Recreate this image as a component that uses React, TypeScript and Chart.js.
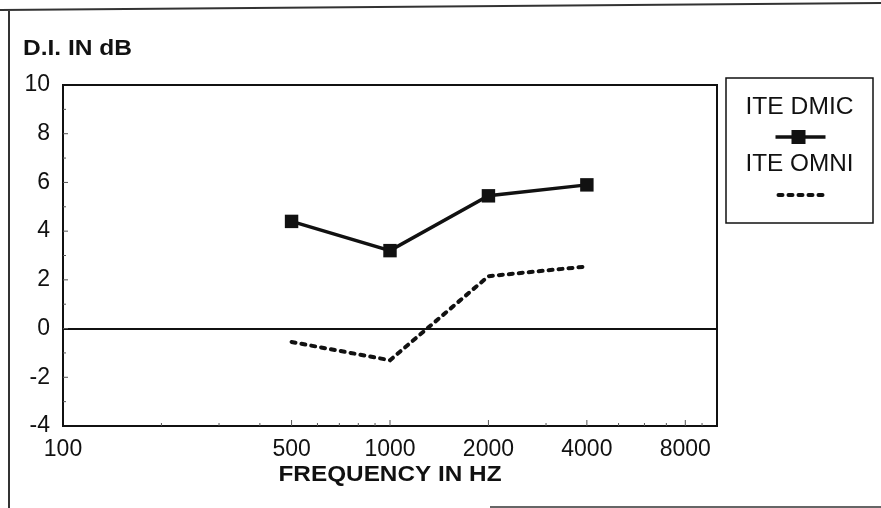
import React, { useEffect, useRef } from 'react';
import { Chart, registerables } from 'chart.js';

Chart.register(...registerables);

const FREQUENCIES = [500, 1000, 2000, 4000];
const ITE_DMIC = [4.4, 3.2, 5.45, 5.9];
const ITE_OMNI = [-0.55, -1.3, 2.15, 2.55];
const SERIES_NAMES = ['ITE DMIC', 'ITE OMNI'];
const X_TICKS = [100, 500, 1000, 2000, 4000, 8000];
const X_MINOR = [200, 300, 400, 600, 700, 800, 900, 3000, 5000, 6000, 7000, 9000];
const X_MIN = 100;
const X_MAX = 10000;
const Y_MIN = -4;
const Y_MAX = 10;
const Y_STEP = 2;
const Y_TITLE = 'D.I. IN dB';
const X_TITLE = 'FREQUENCY IN HZ';

const FAMILY = '"Liberation Sans", Arial, Helvetica, sans-serif';
const INK = '#111';

function drawFit(ctx: CanvasRenderingContext2D, text: string, x: number, y: number, font: string, width: number, align: CanvasTextAlign) {
  ctx.save();
  ctx.font = font;
  const w = ctx.measureText(text).width;
  const sx = width / w;
  ctx.translate(x, y);
  ctx.scale(sx, 1);
  ctx.textAlign = align;
  ctx.textBaseline = 'middle';
  ctx.fillStyle = INK;
  ctx.fillText(text, 0, 0);
  ctx.restore();
}

const decor = {
  id: 'decor',
  beforeDraw(chart: any) {
    const ctx = chart.ctx as CanvasRenderingContext2D;
    ctx.save();
    ctx.fillStyle = '#fff';
    ctx.fillRect(0, 0, chart.width, chart.height);
    ctx.restore();
  },
  afterDraw(chart: any) {
    const ctx = chart.ctx as CanvasRenderingContext2D;
    const a = chart.chartArea;
    const xs = chart.scales.x;
    const ys = chart.scales.y;
    ctx.save();
    // outer frame (scanned page border)
    ctx.strokeStyle = '#333';
    ctx.lineWidth = 2;
    ctx.beginPath();
    ctx.moveTo(0, 10);
    ctx.lineTo(881, 3);
    ctx.moveTo(9, 10);
    ctx.lineTo(9, 508);
    ctx.stroke();
    ctx.strokeStyle = '#666';
    ctx.beginPath();
    ctx.moveTo(490, 507);
    ctx.lineTo(881, 507);
    ctx.stroke();

    // plot box
    ctx.strokeStyle = INK;
    ctx.lineWidth = 2;
    ctx.strokeRect(a.left, a.top, a.right - a.left, a.bottom - a.top);

    // inward minor ticks
    ctx.strokeStyle = '#555';
    ctx.lineWidth = 1;
    ctx.beginPath();
    for (let v = Y_MIN + 1; v < Y_MAX; v++) {
      const py = ys.getPixelForValue(v);
      ctx.moveTo(a.left, py);
      ctx.lineTo(a.left + (v % 2 === 0 ? 5 : 3), py);
    }
    X_TICKS.slice(1).forEach((v) => {
      const px = xs.getPixelForValue(v);
      ctx.moveTo(px, a.bottom);
      ctx.lineTo(px, a.bottom - 6);
    });
    X_MINOR.forEach((v) => {
      const px = xs.getPixelForValue(v);
      ctx.moveTo(px, a.bottom);
      ctx.lineTo(px, a.bottom - 3);
    });
    ctx.stroke();

    // titles
    drawFit(ctx, Y_TITLE, 23, 49, `bold 22px ${FAMILY}`, 109, 'left');
    drawFit(ctx, X_TITLE, (a.left + a.right) / 2, 475, `bold 22px ${FAMILY}`, 223, 'center');

    // legend
    const lx = a.right + 9;
    const ly = 78;
    const lw = 147;
    const lh = 145;
    const cx = lx + lw / 2;
    ctx.strokeStyle = INK;
    ctx.lineWidth = 1.5;
    ctx.strokeRect(lx, ly, lw, lh);
    drawFit(ctx, SERIES_NAMES[0], cx, ly + 30, `23px ${FAMILY}`, 108, 'center');
    ctx.strokeStyle = INK;
    ctx.lineWidth = 3.5;
    ctx.beginPath();
    ctx.moveTo(cx - 24, ly + 59);
    ctx.lineTo(cx + 26, ly + 59);
    ctx.stroke();
    ctx.fillStyle = INK;
    ctx.fillRect(cx - 8, ly + 52, 14, 14);
    drawFit(ctx, SERIES_NAMES[1], cx, ly + 87, `23px ${FAMILY}`, 108, 'center');
    ctx.lineWidth = 4;
    ctx.lineCap = 'round';
    ctx.setLineDash([4, 6]);
    ctx.beginPath();
    ctx.moveTo(cx - 21, ly + 117);
    ctx.lineTo(cx + 27, ly + 117);
    ctx.stroke();
    ctx.restore();
  },
};

export default function App() {
  const ref = useRef<HTMLCanvasElement>(null);
  useEffect(() => {
    const chart = new Chart(ref.current as HTMLCanvasElement, {
      type: 'line',
      data: {
        datasets: [
          {
            label: SERIES_NAMES[0],
            data: FREQUENCIES.map((f, i) => ({ x: f, y: ITE_DMIC[i] })),
            borderColor: INK,
            backgroundColor: INK,
            borderWidth: 3.5,
            pointStyle: 'rect',
            pointRadius: 9.5,
            pointBackgroundColor: INK,
            pointBorderWidth: 0,
            tension: 0,
          },
          {
            label: SERIES_NAMES[1],
            data: FREQUENCIES.map((f, i) => ({ x: f, y: ITE_OMNI[i] })),
            borderColor: INK,
            borderWidth: 4,
            borderDash: [4, 6],
            borderCapStyle: 'round',
            pointRadius: 0,
            tension: 0,
          },
        ],
      },
      options: {
        responsive: false,
        animation: false,
        devicePixelRatio: 1,
        layout: { padding: { top: 85, right: 164, left: 0, bottom: 0 } },
        plugins: { legend: { display: false }, tooltip: { enabled: false } },
        scales: {
          x: {
            type: 'logarithmic',
            min: X_MIN,
            max: X_MAX,
            afterBuildTicks: (s: any) => {
              s.ticks = X_TICKS.map((v) => ({ value: v }));
            },
            afterFit: (s: any) => {
              s.height = 82;
            },
            ticks: {
              autoSkip: false,
              maxRotation: 0,
              minRotation: 0,
              padding: 2,
              color: INK,
              font: { family: FAMILY, size: 23 },
              callback: (v: any) => String(v),
            },
            grid: { display: false },
            border: { display: false },
          },
          y: {
            min: Y_MIN,
            max: Y_MAX,
            afterFit: (s: any) => {
              s.width = 63;
            },
            ticks: {
              stepSize: Y_STEP,
              padding: 13,
              color: INK,
              font: { family: FAMILY, size: 23 },
            },
            grid: {
              drawTicks: false,
              lineWidth: 2,
              color: (c: any) => (c.tick && c.tick.value === 0 ? INK : 'rgba(0,0,0,0)'),
            },
            border: { display: false },
          },
        },
      },
      plugins: [decor],
    } as any);
    return () => chart.destroy();
  }, []);
  return (
    <div style={{ position: 'fixed', left: 0, top: 0, width: 881, height: 508, background: '#fff' }}>
      <canvas ref={ref} width={881} height={508} style={{ display: 'block' }} />
    </div>
  );
}
